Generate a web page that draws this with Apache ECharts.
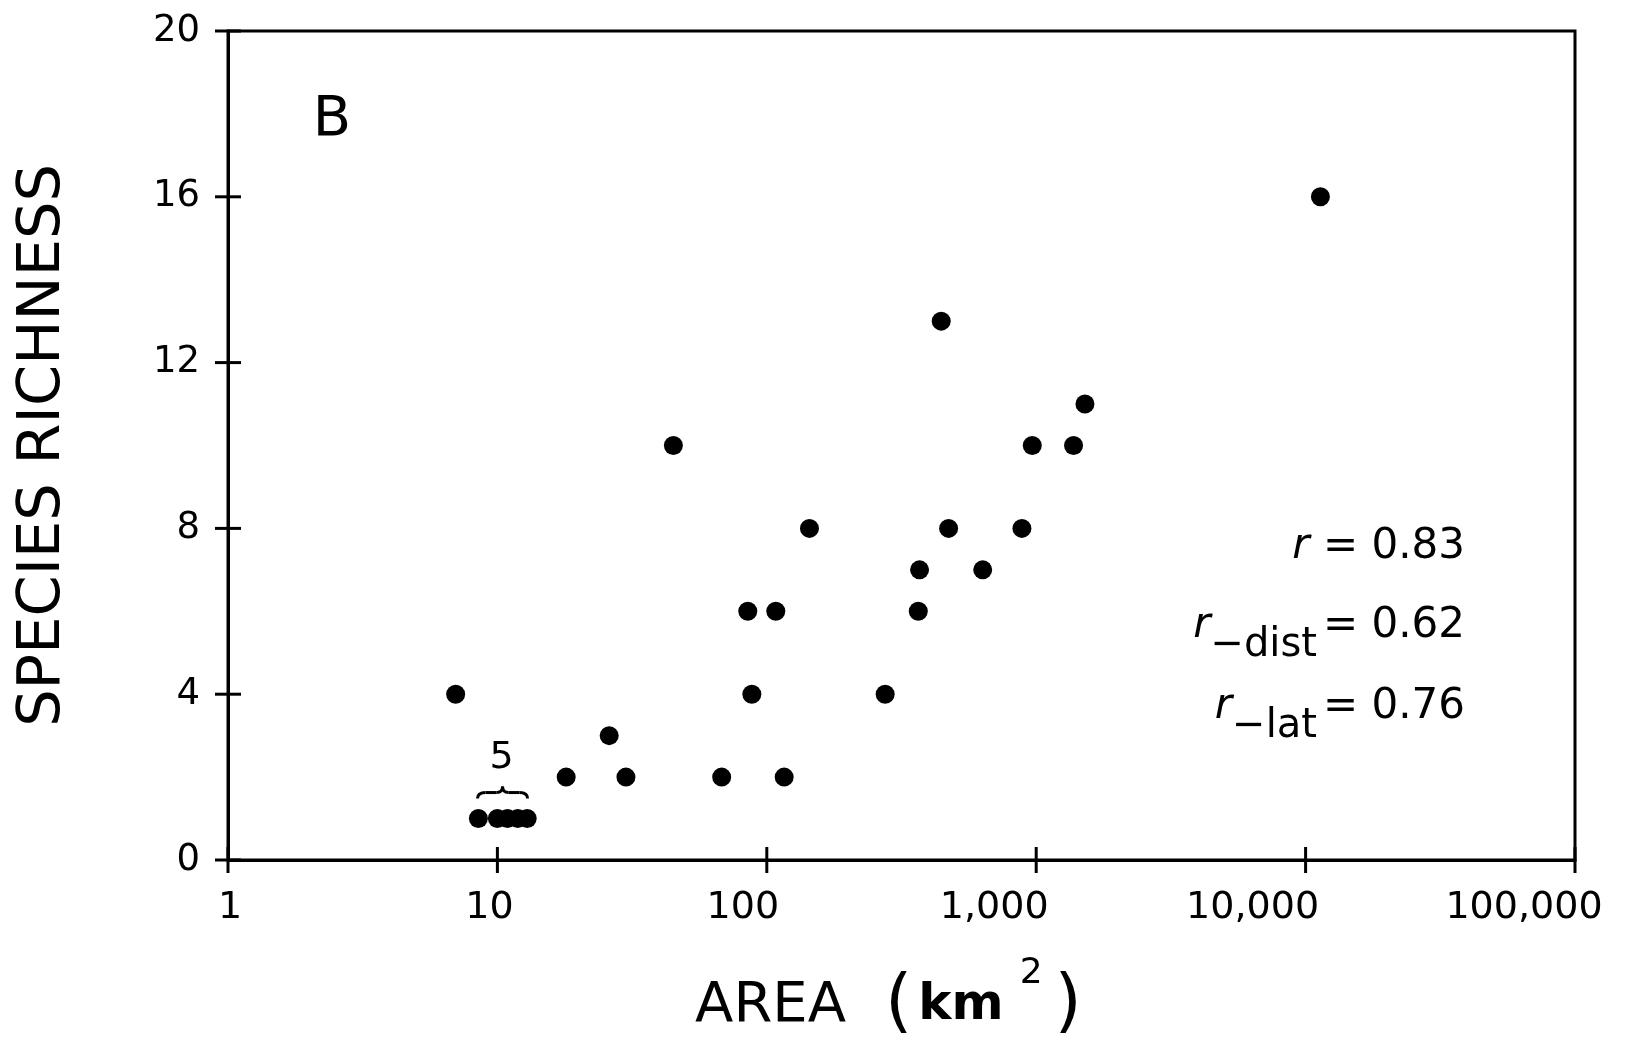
<!DOCTYPE html>
<html><head><meta charset="utf-8">
<script src="https://cdn.jsdelivr.net/npm/echarts/dist/echarts.min.js"></script>
<style>html,body{margin:0;padding:0;background:#fff}#c{width:1625px;height:1039px}</style>
</head><body><div id="c"></div>
<script>
// ---- data ----
const areaKm2  = [7, 8.5, 10.0, 10.9, 11.9, 12.9, 18, 26, 30, 45, 68, 85, 88, 108, 116, 144, 275, 365, 369, 444, 473, 633, 885, 967, 1376, 1517, 11350];
const richness = [4, 1, 1, 1, 1, 1, 2, 3, 2, 10, 2, 6, 4, 6, 2, 8, 4, 6, 7, 13, 8, 7, 8, 10, 10, 11, 16];
const xTickValues = [1, 10, 100, 1000, 10000, 100000];
const xTickLabels = ['1', '10', '100', '1,000', '10,000', '100,000'];
const yTickValues = [0, 4, 8, 12, 16, 20];
const panelLabel = 'B';
const statR = '0.83', statDist = '0.62', statLat = '0.76';
const clusterCount = '5';
const clusterArea = 10.45, clusterRichness = 1;

// ---- style (label shift in px, per x tick label, as in the reference) ----
const xLabelShift = [2, -8, -24, -42, -53, -51];

const FF = 'DejaVu Sans';
const chart = echarts.init(document.getElementById('c'), null, {renderer: 'canvas'});
const black = '#000';
const xMin = xTickValues[0], xMax = xTickValues[xTickValues.length - 1];
const yMin = yTickValues[0], yMax = yTickValues[yTickValues.length - 1];
const yStep = yTickValues[1] - yTickValues[0];

const xRich = {};
xLabelShift.forEach((s, i) => {
  xRich['t' + i] = {fontSize: 38, fontFamily: FF, color: black,
    padding: s < 0 ? [0, -2 * s, 0, 0] : [0, 0, 0, 2 * s]};
});
const xLabelFmt = v => {
  const i = xTickValues.findIndex(t => Math.abs(Math.log10(t) - Math.log10(v)) < 1e-6);
  return i >= 0 ? '{t' + i + '|' + xTickLabels[i] + '}' : '';
};
const points = areaKm2.map((a, i) => [a, richness[i]]);
const lineSt = {color: black, width: 3};

const option = {
  animation: false,
  backgroundColor: '#fff',
  grid: {left: 228, right: 50, top: 31, bottom: 179, show: true, borderColor: black, borderWidth: 3,
         backgroundColor: 'transparent', containLabel: false, outerBoundsMode: 'none'},
  xAxis: {
    type: 'log', logBase: 10, min: xMin, max: xMax, position: 'bottom',
    axisLine: {show: true, lineStyle: lineSt},
    axisTick: {show: false},
    axisLabel: {color: black, fontSize: 38, fontFamily: FF, margin: 29, formatter: xLabelFmt, rich: xRich},
    splitLine: {show: false}, minorTick: {show: false},
    name: '{a|AREA}{sp|  }{p|(}{k|km}{s|2}{p|)}',
    nameLocation: 'middle', nameGap: 96,
    nameTextStyle: {
      padding: [0, 20, 0, 0],
      rich: {
        a: {fontSize: 56, fontFamily: FF, color: black, lineHeight: 100, verticalAlign: 'middle'},
        sp: {fontSize: 52, fontFamily: FF, color: black, lineHeight: 100, verticalAlign: 'middle'},
        p: {fontSize: 70, fontFamily: FF, color: black, lineHeight: 100, verticalAlign: 'middle', padding: [0, 6, 0, 6]},
        k: {fontSize: 50, fontFamily: FF, fontWeight: 'bold', color: black, lineHeight: 100, verticalAlign: 'middle'},
        s: {fontSize: 36, fontFamily: FF, color: black, lineHeight: 26, verticalAlign: 'top', padding: [0, 6, 0, 16]}
      }
    }
  },
  yAxis: {
    type: 'value', min: yMin, max: yMax, interval: yStep, position: 'left',
    axisLine: {show: true, lineStyle: lineSt},
    axisTick: {show: false},
    axisLabel: {color: black, fontSize: 37, fontFamily: FF, margin: 28},
    splitLine: {show: false},
    name: 'SPECIES RICHNESS', nameLocation: 'middle', nameGap: 153,
    nameTextStyle: {fontSize: 59, fontFamily: FF, color: black, lineHeight: 62}
  },
  series: [{
    type: 'scatter',
    data: points,
    symbol: 'circle', symbolSize: 19,
    itemStyle: {color: black, opacity: 1},
    silent: true, emphasis: {disabled: true}
  }]
};
chart.setOption(option);

// crossing tick marks, placed through the chart's own scales
const TICK = 13;
const tickEls = [];
xTickValues.forEach(v => {
  const q = chart.convertToPixel({gridIndex: 0}, [v, yMin]);
  tickEls.push({type: 'line', silent: true, shape: {x1: q[0], y1: q[1] - TICK, x2: q[0], y2: q[1] + TICK},
                style: {stroke: black, lineWidth: 3}});
});
yTickValues.forEach(v => {
  const q = chart.convertToPixel({gridIndex: 0}, [xMin, v]);
  tickEls.push({type: 'line', silent: true, shape: {x1: q[0] - TICK, y1: q[1], x2: q[0] + TICK, y2: q[1]},
                style: {stroke: black, lineWidth: 3}});
});

const statRich = {
  r: {fontSize: 42, fontFamily: FF, fontStyle: 'italic', color: black, lineHeight: 48, verticalAlign: 'top'},
  m: {fontSize: 42, fontFamily: FF, color: black, lineHeight: 48, verticalAlign: 'top'},
  sub: {fontSize: 40, fontFamily: FF, color: black, verticalAlign: 'top', padding: [21, 6, 0, 0]}
};
const p = chart.convertToPixel({gridIndex: 0}, [clusterArea, clusterRichness]);
const bx = p[0], by = p[1] - 26;
const braceSeg = (x1, y1, cx, cy, x2, y2) => ({
  type: 'bezierCurve', silent: true,
  shape: {x1: bx + x1, y1: by + y1, cpx1: bx + cx, cpy1: by + cy, x2: bx + x2, y2: by + y2},
  style: {stroke: black, lineWidth: 3, fill: null}
});
chart.setOption({
  graphic: tickEls.concat([
    {type: 'text', x: 332, y: 120, silent: true,
     style: {text: panelLabel, fill: black, font: '56px "DejaVu Sans"', align: 'center', verticalAlign: 'middle'}},
    {type: 'text', x: 1465, y: 526, silent: true,
     style: {text: '{r|r}{m| = ' + statR + '}', rich: statRich, align: 'right', verticalAlign: 'top'}},
    {type: 'text', x: 1465, y: 605, silent: true,
     style: {text: '{r|r}{sub|\u2212dist}{m|= ' + statDist + '}', rich: statRich, align: 'right', verticalAlign: 'top'}},
    {type: 'text', x: 1465, y: 686, silent: true,
     style: {text: '{r|r}{sub|\u2212lat}{m|= ' + statLat + '}', rich: statRich, align: 'right', verticalAlign: 'top'}},
    {type: 'text', x: p[0] - 1, y: p[1] - 60, silent: true,
     style: {text: clusterCount, fill: black, font: '38px "DejaVu Sans"', align: 'center', verticalAlign: 'middle'}},
    braceSeg(-25, 6, -25, 0, -17, 0),
    {type: 'line', silent: true, shape: {x1: bx - 17, y1: by, x2: bx - 6, y2: by}, style: {stroke: black, lineWidth: 3}},
    braceSeg(-6, 0, 0, 0, 0, -6),
    braceSeg(0, -6, 0, 0, 6, 0),
    {type: 'line', silent: true, shape: {x1: bx + 6, y1: by, x2: bx + 17, y2: by}, style: {stroke: black, lineWidth: 3}},
    braceSeg(17, 0, 25, 0, 25, 6)
  ])
});
</script></body></html>
